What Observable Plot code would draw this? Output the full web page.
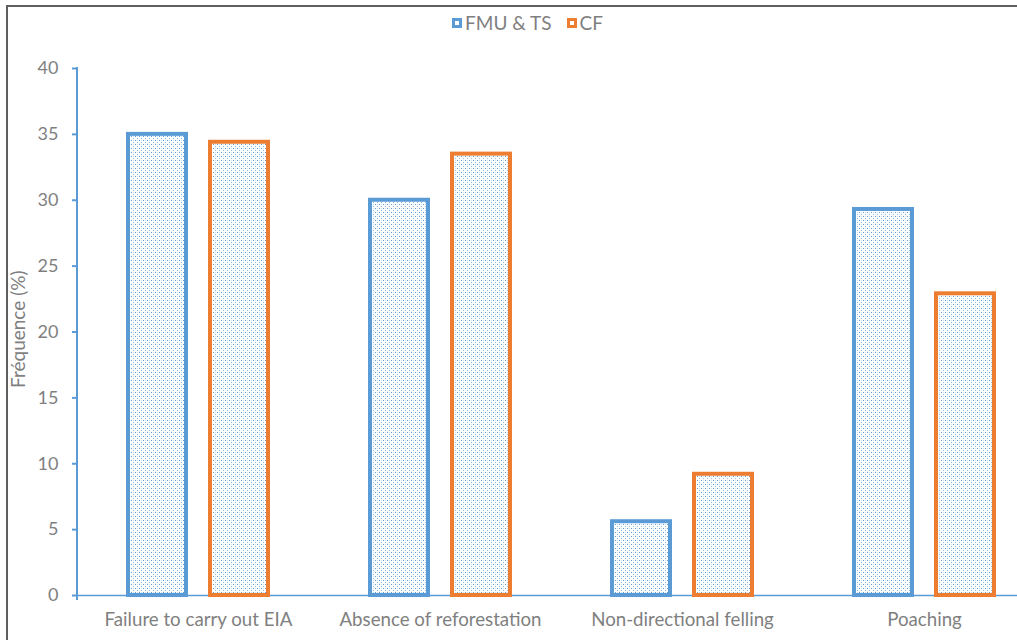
<!DOCTYPE html>
<html><head><meta charset="utf-8">
<script src="https://cdn.jsdelivr.net/npm/d3@7"></script>
<script src="https://cdn.jsdelivr.net/npm/@observablehq/plot@0.6"></script>
<style>
body{margin:0;background:#fff;width:1017px;height:640px;overflow:hidden;position:relative;font-family:Lato,"Liberation Sans",sans-serif;}
#frame{position:absolute;left:6px;top:5px;width:2000px;height:2000px;border-left:2px solid #5f5f5f;border-top:2px solid #5f5f5f;pointer-events:none;z-index:5}
#legendbar{height:40px;position:relative}
#legend{position:absolute;left:452px;top:13px;display:flex;align-items:center;font-size:19px;color:#7f7f7f;line-height:20px}
.item{display:flex;align-items:center;margin-right:15px}
.sw{width:10px;height:10px;margin-right:3px;position:relative}
.sw i{position:absolute;left:3px;top:3px;width:4px;height:4px;background:#fff}
#chart svg{display:block}
</style>
</head><body>
<div id="frame"></div>
<div id="legendbar"><div id="legend"></div></div>
<div id="chart"></div>
<script>
const categories = ["Failure to carry out EIA", "Absence of reforestation", "Non-directional felling", "Poaching"];
const seriesNames = ["FMU & TS", "CF"];
const fmuValues = [35, 30, 5.6, 29.3];
const cfValues = [34.4, 33.5, 9.2, 22.9];
const yTicks = [0, 5, 10, 15, 20, 25, 30, 35, 40];
const yLabel = "Fréquence (%)";
const colors = ["#5B9BD5", "#ED7D31"];

const fmuData = categories.map((c, i) => ({category: c, value: fmuValues[i]}));
const cfData = categories.map((c, i) => ({category: c, value: cfValues[i]}));

// legend
const legend = document.getElementById("legend");
seriesNames.forEach((s, i) => {
  const it = document.createElement("div");
  it.className = "item";
  it.innerHTML = `<span class="sw" style="background:${colors[i]}"><i></i></span><span>${s}</span>`;
  legend.appendChild(it);
});

const plot = Plot.plot({
  width: 1017,
  height: 600,
  marginTop: 28,
  marginBottom: 45,
  marginLeft: 77,
  marginRight: 0,
  style: {background: "transparent", fontFamily: "Lato, 'Liberation Sans', sans-serif", fontSize: "18.7px", color: "#7f7f7f", overflow: "visible"},
  x: {domain: categories, range: [77, 1045], paddingInner: 0.7603, paddingOuter: 0.38, align: 0.5, label: null, tickSize: 0, tickPadding: 17},
  y: {domain: [0, 40], ticks: yTicks, tickSize: 5, tickPadding: 14, label: null},
  marks: [
    Plot.ruleY([0], {stroke: colors[0], strokeWidth: 1.5}),
    Plot.barY(fmuData, {x: "category", y: "value", dx: -41, fill: "url(#dots)", stroke: colors[0], strokeWidth: 4}),
    Plot.barY(cfData, {x: "category", y: "value", dx: 41, fill: "url(#dots)", stroke: colors[1], strokeWidth: 4}),
    Plot.text([yLabel], {frameAnchor: "left", rotate: -90, dx: -59, dy: 56, fill: "#7f7f7f", fontSize: 19})
  ]
});

const svg = d3.select(plot);
const defs = svg.insert("defs", ":first-child");
const pat = defs.append("pattern").attr("id", "dots").attr("patternUnits", "userSpaceOnUse").attr("width", 4).attr("height", 4).attr("shape-rendering", "crispEdges");
pat.append("rect").attr("width", 4).attr("height", 4).attr("fill", "#fff");
pat.append("rect").attr("x", 0).attr("y", 0).attr("width", 1).attr("height", 1).attr("fill", "#4a90d9").attr("fill-opacity", 0.9);
pat.append("rect").attr("x", 2).attr("y", 2).attr("width", 1).attr("height", 1).attr("fill", "#4a90d9").attr("fill-opacity", 0.6);
pat.append("rect").attr("x", 2).attr("y", 0).attr("width", 1).attr("height", 1).attr("fill", "#4a90d9").attr("fill-opacity", 0.25);

svg.selectAll('[aria-label^="y-axis"] path, [aria-label^="y-axis"] line').attr("stroke", colors[0]).attr("stroke-width", 2);
svg.selectAll('[aria-label^="y-axis"] text, [aria-label^="x-axis"] text').attr("fill", "#7f7f7f");
svg.selectAll('[aria-label^="y-axis"] text').attr("font-size", "18px");

const y = plot.scale("y");
svg.append("line")
  .attr("x1", 77).attr("x2", 77)
  .attr("y1", y.apply(40) - 1).attr("y2", y.apply(0) + 5)
  .attr("stroke", colors[0]).attr("stroke-width", 2);

document.getElementById("chart").appendChild(plot);
</script>
</body></html>
